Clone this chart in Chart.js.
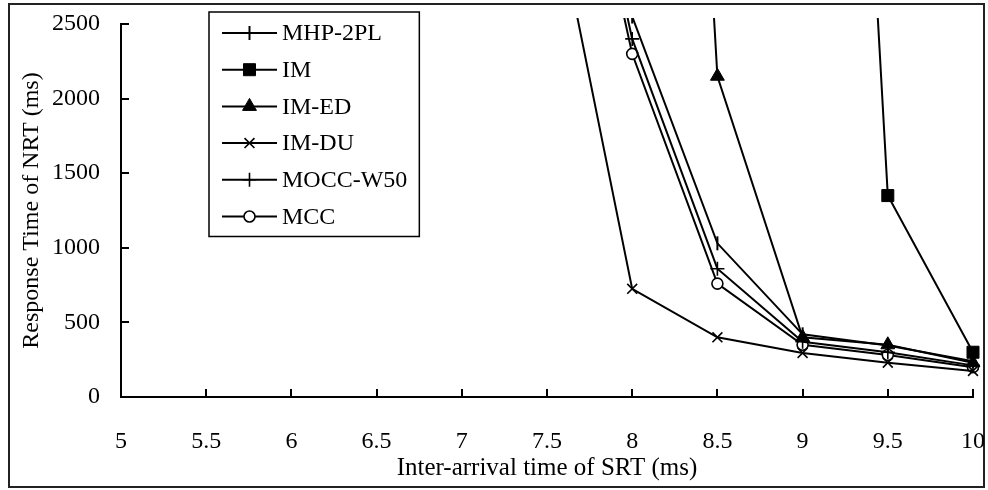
<!DOCTYPE html>
<html>
<head>
<meta charset="utf-8">
<title>Response Time of NRT</title>
<script src="https://cdn.jsdelivr.net/npm/chart.js@4.4.0/dist/chart.umd.min.js"></script>
<style>
  html, body { margin: 0; padding: 0; background: #fff; }
  #wrap { width: 988px; height: 490px; position: relative; }
</style>
</head>
<body>
<div id="wrap"><canvas id="nrt-chart" width="988" height="490"></canvas></div>
<script>
// inter-arrival time of SRT (ms)
const xValues = [7.5, 8, 8.5, 9, 9.5, 10];

// response time of NRT (ms) per protocol, null = not plotted
const mhp2pl  = [5200, 2550, 1030, 420, 345, 240];
const imVals  = [null, null, null, 11500, 1350, 300];
const imEd    = [null, 12000, 2150, 400, 350, 230];
const imDu    = [3550, 725, 400, 295, 230, 175];
const moccW50 = [5000, 2400, 860, 370, 300, 212];
const mccVals = [4900, 2300, 760, 350, 282, 200];

const seriesNames = ['MHP-2PL', 'IM', 'IM-ED', 'IM-DU', 'MOCC-W50', 'MCC'];

const xTicks = [5, 5.5, 6, 6.5, 7, 7.5, 8, 8.5, 9, 9.5, 10];
const yTicks = [0, 500, 1000, 1500, 2000, 2500];

const FONT = "'Liberation Serif', 'Times New Roman', serif";
const FONT_SIZE = 24;

const toPoints = (vals) => xValues.map((x, i) => ({x: x, y: vals[i]}));

const markerStyles = [
  {pointStyle: 'line', pointRadius: 7, pointRotation: 90, pointBorderWidth: 2},
  {pointStyle: 'rect', pointRadius: 8.5, pointRotation: 0, pointBorderWidth: 1},
  {pointStyle: 'triangle', pointRadius: 8, pointRotation: 0, pointBorderWidth: 1},
  {pointStyle: 'crossRot', pointRadius: 7, pointRotation: 0, pointBorderWidth: 1.6},
  {pointStyle: 'cross', pointRadius: 7, pointRotation: 0, pointBorderWidth: 1.6},
  {pointStyle: 'circle', pointRadius: 5.5, pointRotation: 0, pointBorderWidth: 1.6}
];

const allValues = [mhp2pl, imVals, imEd, imDu, moccW50, mccVals];

const datasets = allValues.map(function (vals, i) {
  let ds = Object.assign({
    label: seriesNames[i],
    data: toPoints(vals),
    borderColor: '#000',
    backgroundColor: '#000',
    pointBorderColor: '#000',
    pointBackgroundColor: '#000',
    borderWidth: 2,
    tension: 0,
    spanGaps: false,
    // lines run a little past the 2500 line, markers at x=10 stay whole
    clip: {left: 10, top: 6, right: 12, bottom: 10}
  }, markerStyles[i]);
  if (ds.pointStyle === 'circle') {
    ds.pointBackgroundColor = '#fff';
  }
  return ds;
});

// outer frame of the chart object
const framePlugin = {
  id: 'frame',
  beforeDraw(chart) {
    const ctx = chart.ctx;
    ctx.save();
    ctx.fillStyle = '#fff';
    ctx.fillRect(0, 0, chart.width, chart.height);
    ctx.strokeStyle = '#222';
    ctx.lineWidth = 2;
    ctx.strokeRect(9, 4, 975, 483);
    ctx.restore();
  }
};

// tick marks pointing into the plot area
const innerTicksPlugin = {
  id: 'innerTicks',
  afterDatasetsDraw(chart) {
    const ctx = chart.ctx;
    const xs = chart.scales.x, ys = chart.scales.y;
    const area = chart.chartArea;
    const len = 8;
    ctx.save();
    ctx.strokeStyle = '#000';
    ctx.lineWidth = 2;
    ctx.beginPath();
    xs.ticks.forEach(function (t) {
      const px = Math.round(xs.getPixelForValue(t.value));
      ctx.moveTo(px, area.bottom);
      ctx.lineTo(px, area.bottom - len);
    });
    ys.ticks.forEach(function (t) {
      const py = Math.round(ys.getPixelForValue(t.value));
      ctx.moveTo(area.left, py);
      ctx.lineTo(area.left + len, py);
    });
    ctx.stroke();
    ctx.restore();
  }
};

// boxed legend with line + marker samples
const boxLegendPlugin = {
  id: 'boxLegend',
  afterDraw(chart) {
    const ctx = chart.ctx;
    const left = 209, top = 12, rowH = 36.7, firstRow = 33;
    const sampleL = 222, sampleR = 277, textX = 282;
    ctx.save();
    ctx.font = FONT_SIZE + 'px ' + FONT;
    let maxW = 0;
    chart.data.datasets.forEach(function (ds) {
      maxW = Math.max(maxW, ctx.measureText(ds.label).width);
    });
    const n = chart.data.datasets.length;
    const boxW = textX + maxW + 12 - left;
    const boxH = firstRow - top + rowH * (n - 1) + 20;
    ctx.fillStyle = '#fff';
    ctx.fillRect(left, top, boxW, boxH);
    ctx.strokeStyle = '#000';
    ctx.lineWidth = 1.5;
    ctx.strokeRect(left, top, boxW, boxH);

    chart.data.datasets.forEach(function (ds, i) {
      const y = firstRow + i * rowH;
      ctx.strokeStyle = '#000';
      ctx.lineWidth = 2;
      ctx.beginPath();
      ctx.moveTo(sampleL, y);
      ctx.lineTo(sampleR, y);
      ctx.stroke();

      ctx.fillStyle = ds.pointBackgroundColor;
      ctx.strokeStyle = '#000';
      ctx.lineWidth = ds.pointBorderWidth;
      Chart.helpers.drawPoint(ctx, {
        pointStyle: ds.pointStyle,
        radius: ds.pointRadius,
        rotation: ds.pointRotation,
        borderWidth: ds.pointBorderWidth
      }, (sampleL + sampleR) / 2, y);

      ctx.fillStyle = '#000';
      ctx.textAlign = 'left';
      ctx.textBaseline = 'middle';
      ctx.fillText(ds.label, textX, y + 1);
    });
    ctx.restore();
  }
};

Chart.defaults.font.family = FONT;
Chart.defaults.font.size = FONT_SIZE;
Chart.defaults.color = '#000';

const plainLabel = (value) => String(value);

const ctx = document.getElementById('nrt-chart').getContext('2d');
const nrtChart = new Chart(ctx, {
  type: 'line',
  data: { datasets: datasets },
  plugins: [framePlugin, innerTicksPlugin, boxLegendPlugin],
  options: {
    responsive: false,
    animation: false,
    layout: { padding: { left: 0, top: 24, right: 15, bottom: 0 } },
    plugins: {
      legend: { display: false },
      tooltip: { enabled: false }
    },
    scales: {
      x: {
        type: 'linear',
        min: 5,
        max: 10,
        afterBuildTicks: function (scale) {
          scale.ticks = xTicks.map(v => ({value: v}));
        },
        afterFit: function (scale) {
          scale.height = 93;
          scale.paddingLeft = 0;
          scale.paddingRight = 0;
        },
        grid: { display: false, drawTicks: false },
        border: { display: true, color: '#000', width: 2 },
        ticks: { padding: 30, maxRotation: 0, autoSkip: false, callback: plainLabel },
        title: {
          display: true,
          text: 'Inter-arrival time of SRT (ms)',
          font: { size: 25 },
          padding: { top: 0, bottom: 7 }
        }
      },
      y: {
        min: 0,
        max: 2500,
        afterBuildTicks: function (scale) {
          scale.ticks = yTicks.map(v => ({value: v}));
        },
        afterFit: function (scale) {
          scale.width = 121;
          scale.paddingTop = 0;
          scale.paddingBottom = 0;
        },
        grid: { display: false, drawTicks: false },
        border: { display: true, color: '#000', width: 2 },
        ticks: { padding: 21, callback: plainLabel },
        title: {
          display: true,
          text: 'Response Time of NRT (ms)',
          padding: { top: 17, bottom: 0 }
        }
      }
    }
  }
});
</script>
</body>
</html>
